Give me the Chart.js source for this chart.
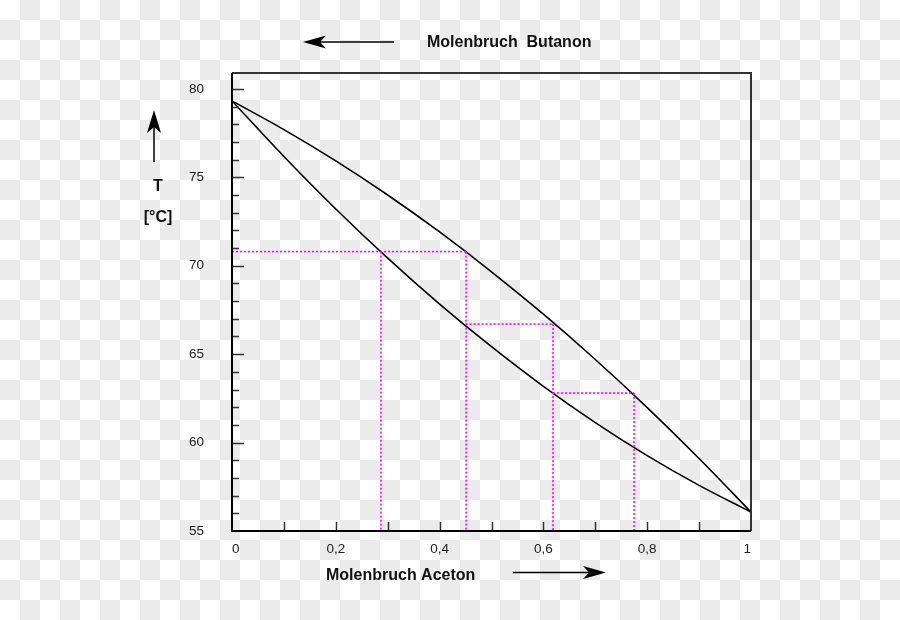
<!DOCTYPE html>
<html>
<head>
<meta charset="utf-8">
<script src="https://cdn.jsdelivr.net/npm/chart.js@4.4.1/dist/chart.umd.min.js"></script>
<style>
  html, body { margin: 0; padding: 0; background: #fff; }
  canvas { display: block; }
</style>
</head>
<body>
<canvas id="myChart" width="900" height="620"></canvas>
<script>
// boiling curve (liquid) and dew curve (vapour), x = Molenbruch Aceton, T in °C
var curveX = [0, 0.1, 0.2, 0.3, 0.4, 0.5, 0.6, 0.7, 0.8, 0.9, 1];
var liquidT = [79.32, 76.18, 73.21, 70.43, 67.83, 65.42, 63.18, 61.13, 59.26, 57.58, 56.07];
var vaporT = [79.32, 77.70, 75.93, 74.00, 71.91, 69.66, 67.26, 64.70, 61.98, 59.10, 56.07];

// dotted magenta steps
var stepT = [70.8, 66.7, 62.8];
var stepFromX = [0, 0.45, 0.6185];
var stepToX = [0.451, 0.6185, 0.7746];
var dropX = [0.287, 0.451, 0.6185, 0.7746];
var dropTopT = [70.8, 70.8, 66.7, 62.8];

var xTickValues = [0, 0.2, 0.4, 0.6, 0.8, 1];
var yTickValues = [55, 60, 65, 70, 75, 80];
var yMin = 55, yMax = 80.9;

function pts(xs, ys) {
    return xs.map(function (x, i) { return { x: x, y: ys[i] }; });
}

var curveStyle = {
    borderColor: '#000',
    borderWidth: 1.6,
    pointRadius: 0,
    fill: false,
    cubicInterpolationMode: 'monotone'
};
var dotStyle = {
    borderColor: '#ff00ff',
    borderWidth: 1.6,
    borderDash: [2, 2],
    pointRadius: 0,
    fill: false,
    tension: 0
};

var datasets = [];
stepT.forEach(function (t, i) {
    datasets.push(Object.assign({ label: 'step' + i, data: pts([stepFromX[i], stepToX[i]], [t, t]) }, dotStyle));
});
dropX.forEach(function (x, i) {
    datasets.push(Object.assign({ label: 'drop' + i, data: pts([x, x], [dropTopT[i], yMin]) }, dotStyle));
});
datasets.push(Object.assign({ label: 'Siedelinie', data: pts(curveX, liquidT) }, curveStyle));
datasets.push(Object.assign({ label: 'Taulinie', data: pts(curveX, vaporT) }, curveStyle));

/* checkerboard background (transparent image look) */
var checker = {
    id: 'checker',
    beforeDraw: function (chart) {
        var c = chart.ctx;
        c.save();
        c.fillStyle = '#fff';
        c.fillRect(0, 0, chart.width, chart.height);
        c.fillStyle = '#ebebeb';
        for (var i = 0; i * 20 < chart.width; i++) {
            for (var j = 0; j * 20 < chart.height; j++) {
                if ((i + j) % 2 === 1) c.fillRect(i * 20, j * 20, 20, 20);
            }
        }
        c.restore();
    }
};

function arrow(c, x1, y1, x2, y2, len, half) {
    var dx = x2 - x1, dy = y2 - y1;
    var d = Math.sqrt(dx * dx + dy * dy);
    var ux = dx / d, uy = dy / d, px = -uy, py = ux;
    var bx = x2 - ux * len, by = y2 - uy * len;
    var nx = x2 - ux * (len - 6), ny = y2 - uy * (len - 6);
    c.beginPath();
    c.moveTo(x1, y1);
    c.lineTo(nx, ny);
    c.lineWidth = 1.5;
    c.strokeStyle = '#000';
    c.stroke();
    c.beginPath();
    c.moveTo(x2, y2);
    c.lineTo(bx + px * half, by + py * half);
    c.lineTo(nx, ny);
    c.lineTo(bx - px * half, by - py * half);
    c.closePath();
    c.fillStyle = '#000';
    c.fill();
}

/* frame, inner ticks, arrows and axis captions */
var decor = {
    id: 'decor',
    afterDraw: function (chart) {
        var c = chart.ctx, a = chart.chartArea;
        var xs = chart.scales.x, ys = chart.scales.y;
        c.save();
        // minor/major ticks inside the plot
        c.strokeStyle = '#333';
        c.lineWidth = 1.5;
        for (var t = 56; t <= 80; t++) {
            var py = Math.round(ys.getPixelForValue(t)) + 0.5;
            var l = (t % 5 === 0) ? 12 : 7;
            c.beginPath();
            c.moveTo(a.left, py);
            c.lineTo(a.left + l, py);
            c.stroke();
        }
        for (var k = 1; k <= 9; k++) {
            var px = Math.round(xs.getPixelForValue(k / 10)) + 0.5;
            c.beginPath();
            c.moveTo(px, a.bottom);
            c.lineTo(px, a.bottom - 9);
            c.stroke();
        }
        // frame
        c.lineWidth = 2;
        c.strokeStyle = '#333';
        c.beginPath();
        c.moveTo(a.left, a.top);
        c.lineTo(a.right, a.top);
        c.lineTo(a.right, a.bottom);
        c.stroke();
        c.strokeStyle = '#000';
        c.beginPath();
        c.moveTo(a.left, a.top);
        c.lineTo(a.left, a.bottom);
        c.lineTo(a.right, a.bottom);
        c.stroke();

        // arrows
        arrow(c, 394, 42, 303, 42, 23, 6.5);
        arrow(c, 513, 572.5, 606, 572.5, 23, 6.5);
        arrow(c, 154, 162, 154, 110, 23, 7);

        // captions
        c.fillStyle = '#111';
        c.font = 'bold 16px "Liberation Sans", Arial, sans-serif';
        c.textBaseline = 'middle';
        c.textAlign = 'left';
        c.fillText('Molenbruch  Butanon', 427, 43);
        c.fillText('Molenbruch Aceton', 326, 576);
        c.textAlign = 'center';
        c.fillText('T', 158, 187);
        c.fillText('[°C]', 158, 218);
        c.restore();
    }
};

var ctx = document.getElementById('myChart').getContext('2d');
var chart = new Chart(ctx, {
    type: 'line',
    data: { datasets: datasets },
    options: {
        responsive: false,
        animation: false,
        layout: { padding: { left: 0, top: 73, right: 149, bottom: 0 } },
        plugins: {
            legend: { display: false },
            tooltip: { enabled: false }
        },
        scales: {
            x: {
                type: 'linear',
                min: 0,
                max: 1,
                afterFit: function (s) { s.height = 89; },
                afterBuildTicks: function (s) {
                    s.ticks = xTickValues.map(function (v) { return { value: v }; });
                },
                grid: { display: false, drawTicks: false },
                border: { display: false },
                ticks: {
                    padding: 10,
                    align: 'inner',
                    color: '#222',
                    font: { family: '"Liberation Sans", Arial, sans-serif', size: 13.5 },
                    maxRotation: 0,
                    callback: function (v) { return String(Math.round(v * 10) / 10).replace('.', ','); }
                }
            },
            y: {
                type: 'linear',
                min: yMin,
                max: yMax,
                afterFit: function (s) { s.width = 232; },
                afterBuildTicks: function (s) {
                    s.ticks = yTickValues.map(function (v) { return { value: v }; });
                },
                grid: { display: false, drawTicks: false },
                border: { display: false },
                ticks: {
                    padding: 28,
                    color: '#222',
                    font: { family: '"Liberation Sans", Arial, sans-serif', size: 13.5 }
                }
            }
        }
    },
    plugins: [checker, decor]
});
</script>
</body>
</html>
